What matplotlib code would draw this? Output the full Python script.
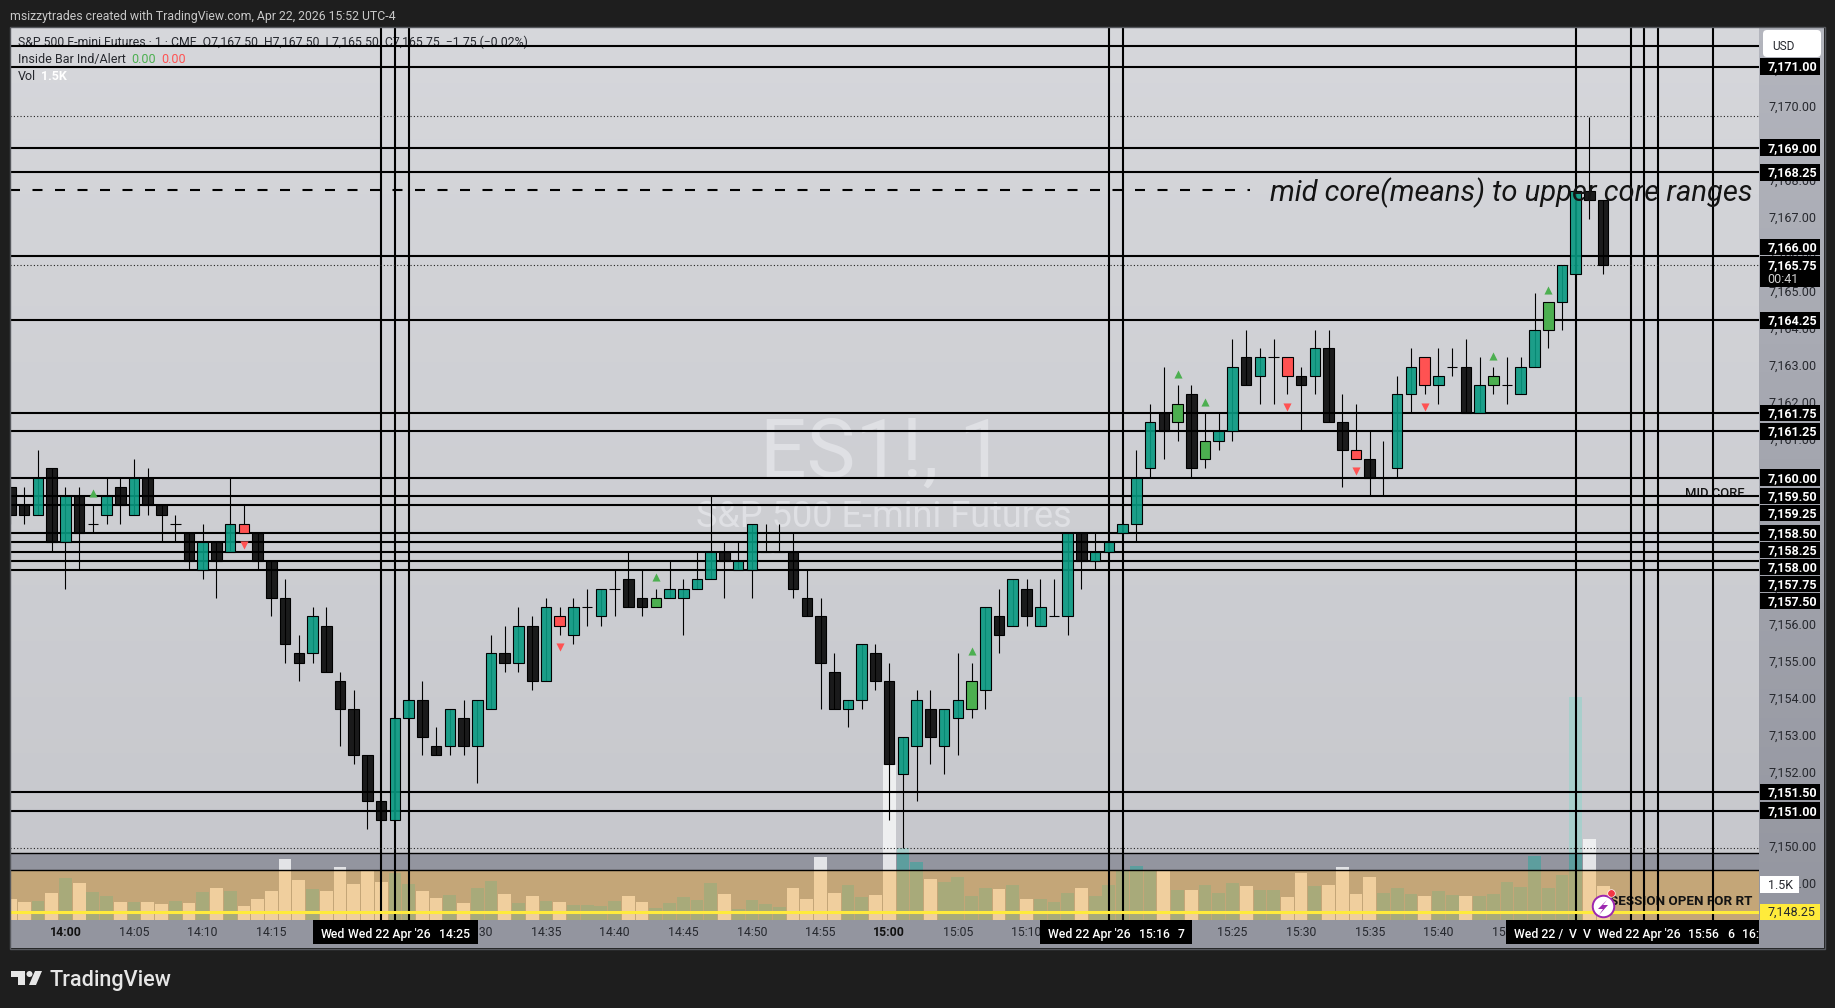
import matplotlib
matplotlib.use("Agg")
import matplotlib.pyplot as plt
import matplotlib.transforms as mtransforms
from matplotlib.patches import Rectangle, FancyBboxPatch, Polygon
import numpy as np

W, H = 1835, 1008
plt.rcParams['font.family'] = ['Roboto', 'DejaVu Sans']

# minutes after 14:00
firstBar = -4
opens = [7159.75, 7159.25, 7159, 7160.25,
    7158.25, 7159.5, 7158.75, 7159, 7159.75, 7159, 7160, 7159.25, 7158.75, 7158.5,
    7157.5, 7158.25, 7158, 7158.75, 7158.5, 7157.75, 7156.75, 7155.25, 7155.25, 7156,
    7154.5, 7153.75, 7152.5, 7151.25, 7150.75, 7153.5, 7154, 7152.75, 7152.75, 7153.5,
    7152.75, 7153.75, 7155.25, 7155, 7156, 7154.5, 7156.25, 7155.75, 7156.5, 7156.25,
    7157, 7157.25, 7156.75, 7156.5, 7156.75, 7156.75, 7157, 7157.25, 7158, 7157.5,
    7157.5, 7158, 7158, 7158, 7156.75, 7156.25, 7154.75, 7153.75, 7154, 7155.25,
    7154.5, 7152, 7152.75, 7153.75, 7152.75, 7153.5, 7153.75, 7154.25, 7156.25, 7156,
    7157, 7156, 7156.25, 7156.25, 7158.5, 7157.75, 7158, 7158.5, 7158.75, 7160.25,
    7161.75, 7161.5, 7162.25, 7160.5, 7161, 7161.25, 7163.25, 7162.75, 7163.25, 7163.25,
    7162.75, 7162.75, 7163.5, 7161.5, 7160.75, 7160.5, 7160, 7160.25, 7162.25, 7163.25,
    7162.5, 7163, 7163, 7161.75, 7162.5, 7162.5, 7162.25, 7163, 7164, 7164.75,
    7165.5, 7167.75, 7167.5]
highs = [7159.75, 7159.75, 7160.75, 7160.25,
    7159.75, 7159.75, 7159.25, 7160, 7160, 7160.5, 7160.25, 7159.25, 7159, 7158.5,
    7158.75, 7158.25, 7160, 7159.25, 7158.5, 7157.75, 7157.25, 7155.75, 7156.5, 7156.5,
    7154.75, 7154.25, 7152.5, 7151.25, 7153.5, 7154, 7154.5, 7153.25, 7153.75, 7154,
    7154, 7155.75, 7156, 7156.5, 7156.25, 7156.75, 7156.5, 7156.75, 7157, 7157,
    7157.5, 7158, 7157.5, 7157, 7157.75, 7157.25, 7158, 7159.5, 7158.25, 7158.25,
    7158.75, 7158.75, 7158.75, 7158.5, 7157.5, 7156.75, 7155.25, 7154, 7155.5, 7155.5,
    7155, 7153, 7154.25, 7154.25, 7153.75, 7155.25, 7155, 7156.5, 7157, 7157.25,
    7157.25, 7157.25, 7157.25, 7158.5, 7158.5, 7158.5, 7158.25, 7158.75, 7160.75, 7162,
    7163, 7162.5, 7162.5, 7161.75, 7161.75, 7163.75, 7164, 7163.5, 7163.75, 7163.25,
    7163, 7164, 7164, 7162.25, 7162, 7161.25, 7161, 7162.75, 7163.5, 7163.25,
    7163.5, 7163.5, 7163.75, 7163.25, 7163, 7163.25, 7163.25, 7165, 7164.75, 7165.75,
    7167.75, 7169.75, 7167.5]
lows = [7158.75, 7158.75, 7159, 7158,
    7157, 7157.5, 7158.5, 7158.75, 7158.75, 7159, 7159, 7158.25, 7158.25, 7157.5,
    7157.25, 7156.75, 7158, 7158.5, 7157.5, 7156.25, 7155, 7154.5, 7155, 7154.75,
    7152.75, 7152.25, 7150.5, 7150.75, 7150.75, 7153.5, 7152.5, 7152.5, 7152.5, 7152.5,
    7151.75, 7153.75, 7154.75, 7154.75, 7154.25, 7154.5, 7155.75, 7155.5, 7156, 7156,
    7156.25, 7156.5, 7156.25, 7156.5, 7156.75, 7155.75, 7157, 7157.25, 7156.75, 7157.5,
    7156.75, 7158, 7158, 7156.75, 7156.25, 7153.75, 7153.75, 7153.25, 7153.75, 7154.25,
    7150.75, 7150, 7151.25, 7152.25, 7152, 7152.5, 7153.5, 7153.75, 7155.25, 7156,
    7156, 7156, 7156.25, 7155.75, 7157, 7157.5, 7158, 7158.5, 7158.25, 7160,
    7160.5, 7161, 7160, 7160.25, 7160.75, 7161, 7162.5, 7162, 7162, 7162.25,
    7161.25, 7162.25, 7161.5, 7159.75, 7160.5, 7159.5, 7159.5, 7160, 7161.75, 7162.25,
    7162, 7162.75, 7161.75, 7161.75, 7162.25, 7162, 7162.25, 7163, 7163.5, 7164,
    7165.5, 7167, 7165.5]
closes = [7159, 7159, 7160, 7158.25,
    7159.5, 7158.5, 7158.75, 7159.5, 7159.25, 7160, 7159.25, 7159, 7158.75, 7157.75,
    7158.25, 7157.75, 7158.75, 7158.5, 7157.75, 7156.75, 7155.5, 7155, 7156.25, 7154.75,
    7153.75, 7152.5, 7151.25, 7150.75, 7153.5, 7154, 7153, 7152.5, 7153.75, 7152.75,
    7154, 7155.25, 7155, 7156, 7154.5, 7156.5, 7156, 7156.5, 7156.5, 7157,
    7157, 7156.5, 7156.5, 7156.75, 7157, 7157, 7157.25, 7158, 7157.75, 7157.75,
    7158.75, 7158, 7158, 7157, 7156.25, 7155, 7153.75, 7154, 7155.5, 7154.5,
    7152.25, 7153, 7154, 7153, 7153.75, 7154, 7154.5, 7156.5, 7155.75, 7157.25,
    7156.25, 7156.5, 7156.25, 7158.5, 7157.75, 7158, 7158.25, 7158.75, 7160, 7161.5,
    7161.25, 7162, 7160.25, 7161, 7161.25, 7163, 7162.5, 7163.25, 7163.25, 7162.75,
    7162.5, 7163.5, 7161.5, 7160.75, 7160.5, 7160, 7160, 7162.25, 7163, 7162.5,
    7162.75, 7163, 7161.75, 7162.5, 7162.75, 7162.5, 7163, 7164, 7164.75, 7165.75,
    7167.75, 7167.5, 7165.75]
volumes = [.92, .79, .83, 1.18,
    1.83, 1.62, 1.22, 1.05, .79, .79, .79, .70, .83, .74,
    1.22, 1.40, 1.27, .61, .92, 1.27, 2.66, 1.75, 1.35, 1.27,
    2.31, 1.57, 2.14, 1.67, 2.05, 1.57, 1.27, .96, 1.09, .74,
    1.40, 1.70, 1.14, .74, 1.05, .83, .79, .66, .66, .61,
    .83, 1.05, .79, .52, .74, 1.00, .87, 1.62, 1.14, .48,
    .87, .70, .57, 1.40, .92, 2.75, 1.18, 1.53, 1.00, 1.09,
    6.77, 3.13, 2.53, 1.79, 1.67, 1.88, 1.05, 1.40, 1.35, 1.53,
    .92, .92, .79, 1.18, 1.40, 1.05, 1.53, 2.14, 2.36, 2.14,
    2.14, 1.31, 1.31, 1.53, 1.18, 1.62, 1.48, 1.31, 1.31, 1.00,
    2.05, 1.48, 1.53, 2.31, 1.14, 1.88, 1.18, 1.40, 1.14, 1.05,
    1.27, 1.09, 1.05, 1.05, 1.14, 1.67, 1.44, 2.79, 1.40, 1.97,
    9.74, 3.54, 1.48]

insideUpBars = [43, 66, 81, 83, 104, 108]
insideDownBars = [13, 36, 89, 94, 99]
alertUpBars = [2, 43, 66, 81, 83, 104, 108]
alertUpPrices = [7159.58, 7157.32, 7155.32, 7162.8, 7162.04, 7163.3, 7165.07]
alertDownBars = [13, 36, 89, 94, 99]
alertDownPrices = [7158.17, 7155.42, 7161.9, 7160.17, 7161.9]

priceLines = [7171.67, 7171.11, 7168.92, 7168.25, 7166, 7164.25, 7161.75, 7161.25, 7160,
    7159.5, 7159.25, 7158.5, 7158.25, 7158, 7157.75, 7157.5, 7151.5, 7151]
priceLineLabels = ["", "7,171.00", "7,169.00", "7,168.25", "7,166.00", "7,164.25", "7,161.75",
    "7,161.25", "7,160.00", "7,159.50", "7,159.25", "7,158.50", "7,158.25", "7,158.00",
    "7,157.75", "7,157.50", "7,151.50", "7,151.00"]
timeLines = [23, 24, 25, 76, 77, 110, 114, 115, 116, 120]
dashedPrice = 7167.78
dottedPrices = [7169.77, 7165.75, 7150]
boxEdgePrices = [7149.85, 7149.39]
yellowPrice = 7148.26

priceTicks = list(range(7149, 7172))
timeTicks = list(range(0, 125, 5))
timeTickLabels = ["14:00", "14:05", "14:10", "14:15", "14:20", "14:25", "14:30", "14:35", "14:40",
    "14:45", "14:50", "14:55", "15:00", "15:05", "15:10", "15:15", "15:20", "15:25", "15:30",
    "15:35", "15:40", "15:45", "15:50", "15:55", "16:00"]

TEAL = (0.031, 0.6, 0.506, 0.9)
DARK = (0, 0, 0, 0.87)
LIME = "#4caf50"
RED = "#ff5252"

fig = plt.figure(figsize=(W / 100, H / 100), dpi=100, facecolor="#1e1e1e")
# pixel coordinates, origin top left, for everything that is page furniture
px = mtransforms.Affine2D().scale(1 / W, -1 / H).translate(0, 1) + fig.transFigure


def axesAt(x0, y0, x1, y1):
    return fig.add_axes([x0 / W, 1 - y1 / H, (x1 - x0) / W, (y1 - y0) / H])


# backgrounds
for box, top, bottom in [((10, 27, 1759, 920), "#d6d7db", "#c6c7cc"),
                         ((1759, 27, 1824, 948), "#b3b5bd", "#93959f")]:
    axBg = axesAt(*box)
    c0 = np.array(matplotlib.colors.to_rgb(top))
    c1 = np.array(matplotlib.colors.to_rgb(bottom))
    axBg.imshow(np.linspace(c0, c1, 64)[:, None, :], aspect="auto")
    axBg.axis("off")
    axBg.set_zorder(-2)
fig.add_artist(Rectangle((10, 920), 1749, 28, transform=px, facecolor="#93959f", edgecolor="none", zorder=-3))
fig.add_artist(Rectangle((9.5, 26.5), 1815, 922, transform=px, facecolor="none", edgecolor="#55575c", lw=1, zorder=9))

ax = axesAt(10, 27, 1759, 920)
axVol = ax.twinx()
ax.set_zorder(axVol.get_zorder() + 1)
ax.patch.set_visible(False)
axVol.patch.set_visible(False)
ax.set_xlim(-4.035, 123.35)
ax.set_ylim(7148.045, 7172.18)
axVol.set_ylim(0, 39)
axVol.set_yticks([])
ax.yaxis.tick_right()
for a in (ax, axVol):
    for s in a.spines.values():
        s.set_visible(False)

bars = np.arange(firstBar, firstBar + len(opens))
opens, highs, lows, closes, volumes = map(np.array, (opens, highs, lows, closes, volumes))

# session boxes and volume, volume sits behind the candles
TAN_TOP, GREY_TOP = 2.18, 2.93
axVol.axhspan(TAN_TOP, GREY_TOP, color="#93959f", lw=0)
axVol.axhspan(0, TAN_TOP, color="#c4a678", lw=0)
up = closes >= opens
for cap, upColor, downColor in [(None, "#a8cfcc", "#eeeff0"), (GREY_TOP, "#5d9e9e", "#e3e4e7"),
                                (TAN_TOP, "#a8aa7a", "#f0cf9e")]:
    heights = volumes if cap is None else np.minimum(volumes, cap)
    axVol.bar(bars, heights, width=0.93, color=[upColor if u else downColor for u in up], lw=0)

# watermark
ax.text(882, 455, "ES1!, 1", transform=px, fontsize=59, color="#dfe0e4", ha="center", va="center", zorder=1)
ax.text(884, 517, "S&P 500 E-mini Futures", transform=px, fontsize=26, color="#dfe0e4", ha="center", va="center", zorder=1)

# drawings
for p in priceLines:
    ax.axhline(p, color="black", lw=1.5, zorder=2)
for t in timeLines:
    ax.axvline(t, color="black", lw=1.5, zorder=2)
for p in boxEdgePrices:
    ax.axhline(p, color="black", lw=1, zorder=2)
for p in dottedPrices:
    ax.axhline(p, color="#222222", lw=0.8, ls=(0, (1, 2)), zorder=2)
ax.hlines(dashedPrice, -4.035, 86.3, color="black", lw=1.5, linestyles=(0, (4.8, 6)), zorder=2)
ax.axhline(yellowPrice, color="#ffeb3b", lw=2.2, zorder=2)

# candles
ax.vlines(bars, lows, highs, color="black", lw=0.8, zorder=3)
colours = [TEAL if u else DARK for u in up]
for b in insideUpBars:
    colours[b - firstBar] = LIME
for b in insideDownBars:
    colours[b - firstBar] = RED
ax.bar(bars, np.abs(closes - opens), bottom=np.minimum(opens, closes), width=0.77,
       color=colours, edgecolor="black", lw=0.8, zorder=4)
ax.scatter(alertUpBars, alertUpPrices, marker="^", s=34, color=LIME, lw=0, zorder=4)
ax.scatter(alertDownBars, alertDownPrices, marker="v", s=34, color=RED, lw=0, zorder=4)

# ticks
ax.set_yticks(priceTicks)
ax.set_yticklabels([f"{p:,}.00" for p in priceTicks], fontsize=9, color="#26282e")
ax.tick_params(axis="y", length=0, pad=6.5)
nudgeUp = mtransforms.ScaledTranslation(0, 1.7 / 72, fig.dpi_scale_trans)
for tick in ax.get_yticklabels():
    tick.set_transform(tick.get_transform() + nudgeUp)
ax.set_xticks(timeTicks)
ax.set_xticklabels(timeTickLabels, fontsize=8.8, color="#26282e")
ax.tick_params(axis="x", length=0, pad=4.5)
for tick in ax.get_xticklabels():
    if tick.get_text().endswith(":00"):
        tick.set_fontweight("bold")
        tick.set_color("#111111")


def priceLabel(price, text, face="black", colour="white", x1=1820):
    yTrans = ax.get_yaxis_transform()
    x0 = 1 + 1 / 1749
    width = (x1 - 1760) / 1749
    ax.add_patch(Rectangle((x0, price - 8.2 / 37), width, 16.4 / 37, transform=yTrans, facecolor=face,
                           edgecolor="none", clip_on=False, zorder=7))
    ax.text(1 + 8.5 / 1749, price + 1 / 37, text, transform=yTrans, color=colour, fontsize=9, fontweight="bold" if face == "black" else "normal",
            va="center_baseline", clip_on=False, zorder=8)


# labels stack downwards when their lines sit too close together
lastLabel = None
for p, text in zip(priceLines, priceLineLabels):
    if text == "":
        continue
    labelPrice = p
    if text == "7,166.00":
        # pushed up by the last price tag
        labelPrice = 7166.24
    if lastLabel is not None and lastLabel - labelPrice < 17 / 37:
        labelPrice = lastLabel - 17 / 37
    priceLabel(labelPrice, text)
    lastLabel = labelPrice

yTrans = ax.get_yaxis_transform()
ax.add_patch(Rectangle((1 + 1 / 1749, 7165.15), 60 / 1749, 0.85, transform=yTrans, facecolor="black", clip_on=False, zorder=7))
ax.text(1 + 8.5 / 1749, 7165.77, "7,165.75", transform=yTrans, color="white", fontsize=9, fontweight="bold", va="center_baseline", clip_on=False, zorder=8)
ax.text(1 + 8.5 / 1749, 7165.40, "00:41", transform=yTrans, color="#d0d0d0", fontsize=9, va="center_baseline", clip_on=False, zorder=8)
priceLabel(yellowPrice, "7,148.25", face="#ffeb3b", colour="#26282e")
priceLabel(7149.0, "1.5K", face="white", colour="#26282e", x1=1799)

fig.add_artist(FancyBboxPatch((1765, 32), 54, 23, boxstyle="round,pad=2,rounding_size=4", transform=px,
                              facecolor="white", edgecolor="none", zorder=10))
fig.text(1772, 44.5, "USD", transform=px, fontsize=8.6, color="#26282e", va="center_baseline", zorder=11)

# black boxes on the time axis
for x0, x1 in [(313, 478), (1040, 1192), (1506, 1759)]:
    fig.add_artist(Rectangle((x0, 920), x1 - x0, 24, transform=px, facecolor="black", edgecolor="none", zorder=10))
timeBoxTexts = [(321, "Wed"), (348, "Wed 22 Apr '26"), (439, "14:25"),
                (1048, "Wed 22 Apr '26"), (1139, "15:16"), (1178, "7"),
                (1514, "Wed 22 /"), (1569, "V"), (1583, "V"), (1598, "Wed 22 Apr '26"),
                (1688, "15:56"), (1727, "6"), (1742, "16:")]
for x, text in timeBoxTexts:
    fig.text(x, 933, text, transform=px, fontsize=8.8, color="white", fontweight="medium", va="center_baseline", zorder=11)

# header and legend
fig.text(10, 15, "msizzytrades created with TradingView.com, Apr 22, 2026 15:52 UTC-4", transform=px,
         fontsize=8.8, color="#c8c8c8", va="center_baseline")
ax.text(18, 41, "S&P 500 E-mini Futures · 1 · CME  O7,167.50  H7,167.50  L7,165.50  C7,165.75  −1.75 (−0.02%)",
        transform=px, fontsize=8.8, color="#26282e", va="center_baseline", zorder=1)
ax.text(18, 58, "Inside Bar Ind/Alert", transform=px, fontsize=9, color="#26282e", va="center_baseline", zorder=6)
ax.text(131, 58, "0.00", transform=px, fontsize=9, color=LIME, va="center_baseline", zorder=6)
ax.text(161, 58, "0.00", transform=px, fontsize=9, color=RED, va="center_baseline", zorder=6)
ax.text(18, 75, "Vol", transform=px, fontsize=9, color="#26282e", va="center_baseline", zorder=6)
ax.text(41, 75, "1.5K", transform=px, fontsize=9, color="white", fontweight="bold", va="center_baseline", zorder=6)

# notes on the chart
ax.text(1270, 189, "mid core(means) to upper core ranges", transform=px, fontsize=21, style="italic",
        color="#141414", va="center_baseline", zorder=6)
ax.text(1685, 497, "MID CORE", transform=px, fontsize=9.4, fontweight="medium", color="#141414", va="baseline", zorder=1)
ax.text(1610, 900, "SESSION OPEN FOR RT", transform=px, fontsize=9.6, fontweight="bold", color="#141414",
        va="center_baseline", zorder=1)

# alert icon
ax.scatter([112], [7148.43], s=240, facecolor="white", edgecolor="#9c27b0", lw=1.4, zorder=6, clip_on=False)
ax.add_patch(Polygon([(1607, 900), (1598, 909), (1603, 909), (1599, 915), (1608, 905), (1603, 905)], transform=px,
                     facecolor="#9c27b0", edgecolor="none", zorder=7))
ax.scatter([112.55], [7148.78], s=30, facecolor="#f23645", edgecolor="white", lw=0.5, zorder=7)

# TradingView logo
logo = "#e6e6e6"
fig.add_artist(Polygon([(11, 971), (25, 971), (25, 985), (18, 985), (18, 977), (11, 977)], transform=px, facecolor=logo, edgecolor="none"))
fig.add_artist(Polygon([(35, 971), (42, 971), (36, 985), (29, 985)], transform=px, facecolor=logo, edgecolor="none"))
fig.add_artist(plt.Circle((29.5, 974), 3, transform=px, facecolor=logo, edgecolor="none"))
fig.text(49, 978, "TradingView", transform=px, fontsize=15.6, fontweight="medium", color=logo, va="center_baseline")

fig.savefig("out.png", dpi=100, facecolor=fig.get_facecolor())
